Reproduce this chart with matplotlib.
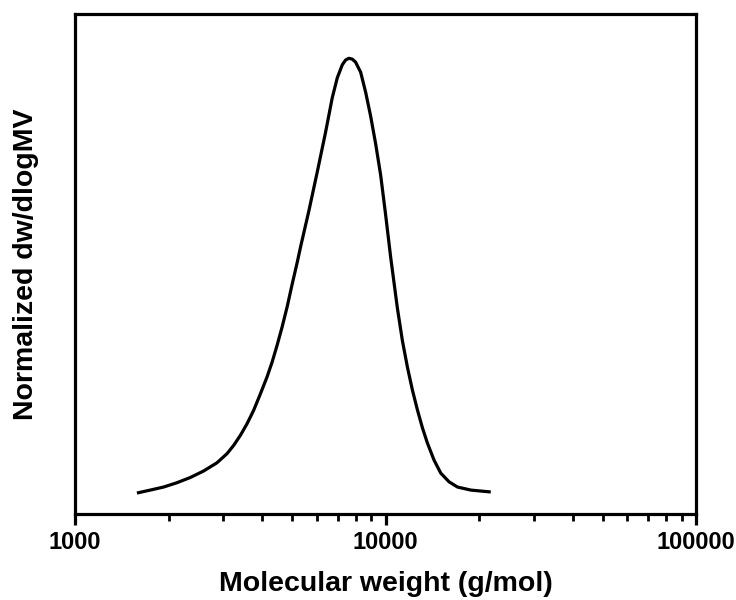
import matplotlib
matplotlib.use("Agg")
import matplotlib.pyplot as plt
from matplotlib.ticker import LogLocator, NullFormatter, FixedLocator

plt.rcParams['font.family'] = ['Liberation Sans', 'DejaVu Sans']
plt.rcParams['font.weight'] = 'bold'

# molecular weight (g/mol) and normalized dw/dlogMV
mw = [1600, 1746, 1927, 2129, 2350, 2594, 2865, 3086, 3241, 3406, 3580,
      3760, 3953, 4153, 4311, 4474, 4643, 4818, 5000, 5190, 5318, 5656,
      6021, 6406, 6730, 6986, 7250, 7430, 7614, 7810, 8003, 8307, 8620,
      8945, 9285, 9636, 10000, 10378, 10907, 11320, 11750, 12195, 12660,
      13137, 13630, 14315, 15045, 16003, 17033, 18803, 21540]
dw = [0.0, 0.006, 0.013, 0.023, 0.035, 0.050, 0.069, 0.090, 0.109, 0.132, 0.159,
      0.190, 0.228, 0.267, 0.301, 0.340, 0.382, 0.428, 0.480, 0.530, 0.565, 0.648,
      0.738, 0.830, 0.909, 0.955, 0.985, 0.996, 1.0, 0.998, 0.991, 0.968, 0.922,
      0.867, 0.803, 0.731, 0.639, 0.542, 0.425, 0.350, 0.289, 0.236, 0.190,
      0.149, 0.114, 0.075, 0.045, 0.025, 0.013, 0.006, 0.002]

fig = plt.figure(figsize=(7.36, 6.0), dpi=100)
ax = fig.add_axes([0.102, 0.143, 0.844, 0.833])
ax.plot(mw, dw, color='black', linewidth=2.3, solid_joinstyle='round')

ax.set_xscale('log')
ax.set_xlim(1000, 100000)
ax.set_ylim(-0.0495, 1.101)
ax.xaxis.set_major_locator(FixedLocator([1000, 10000, 100000]))
ax.xaxis.set_minor_locator(LogLocator(base=10, subs=range(2, 10)))
ax.xaxis.set_minor_formatter(NullFormatter())
ax.set_xticklabels(['1000', '10000', '100000'])
ax.set_yticks([])

for s in ax.spines.values():
    s.set_linewidth(2.3)
ax.tick_params(axis='x', which='major', length=8, width=2.3, labelsize=17, pad=4)
ax.tick_params(axis='x', which='minor', length=5, width=2.0)

ax.set_xlabel('Molecular weight (g/mol)', fontsize=20.5, fontweight='bold', labelpad=12)
ax.set_ylabel('Normalized dw/dlogMV', fontsize=20.5, fontweight='bold', labelpad=26)

fig.savefig('out.png', dpi=100)
